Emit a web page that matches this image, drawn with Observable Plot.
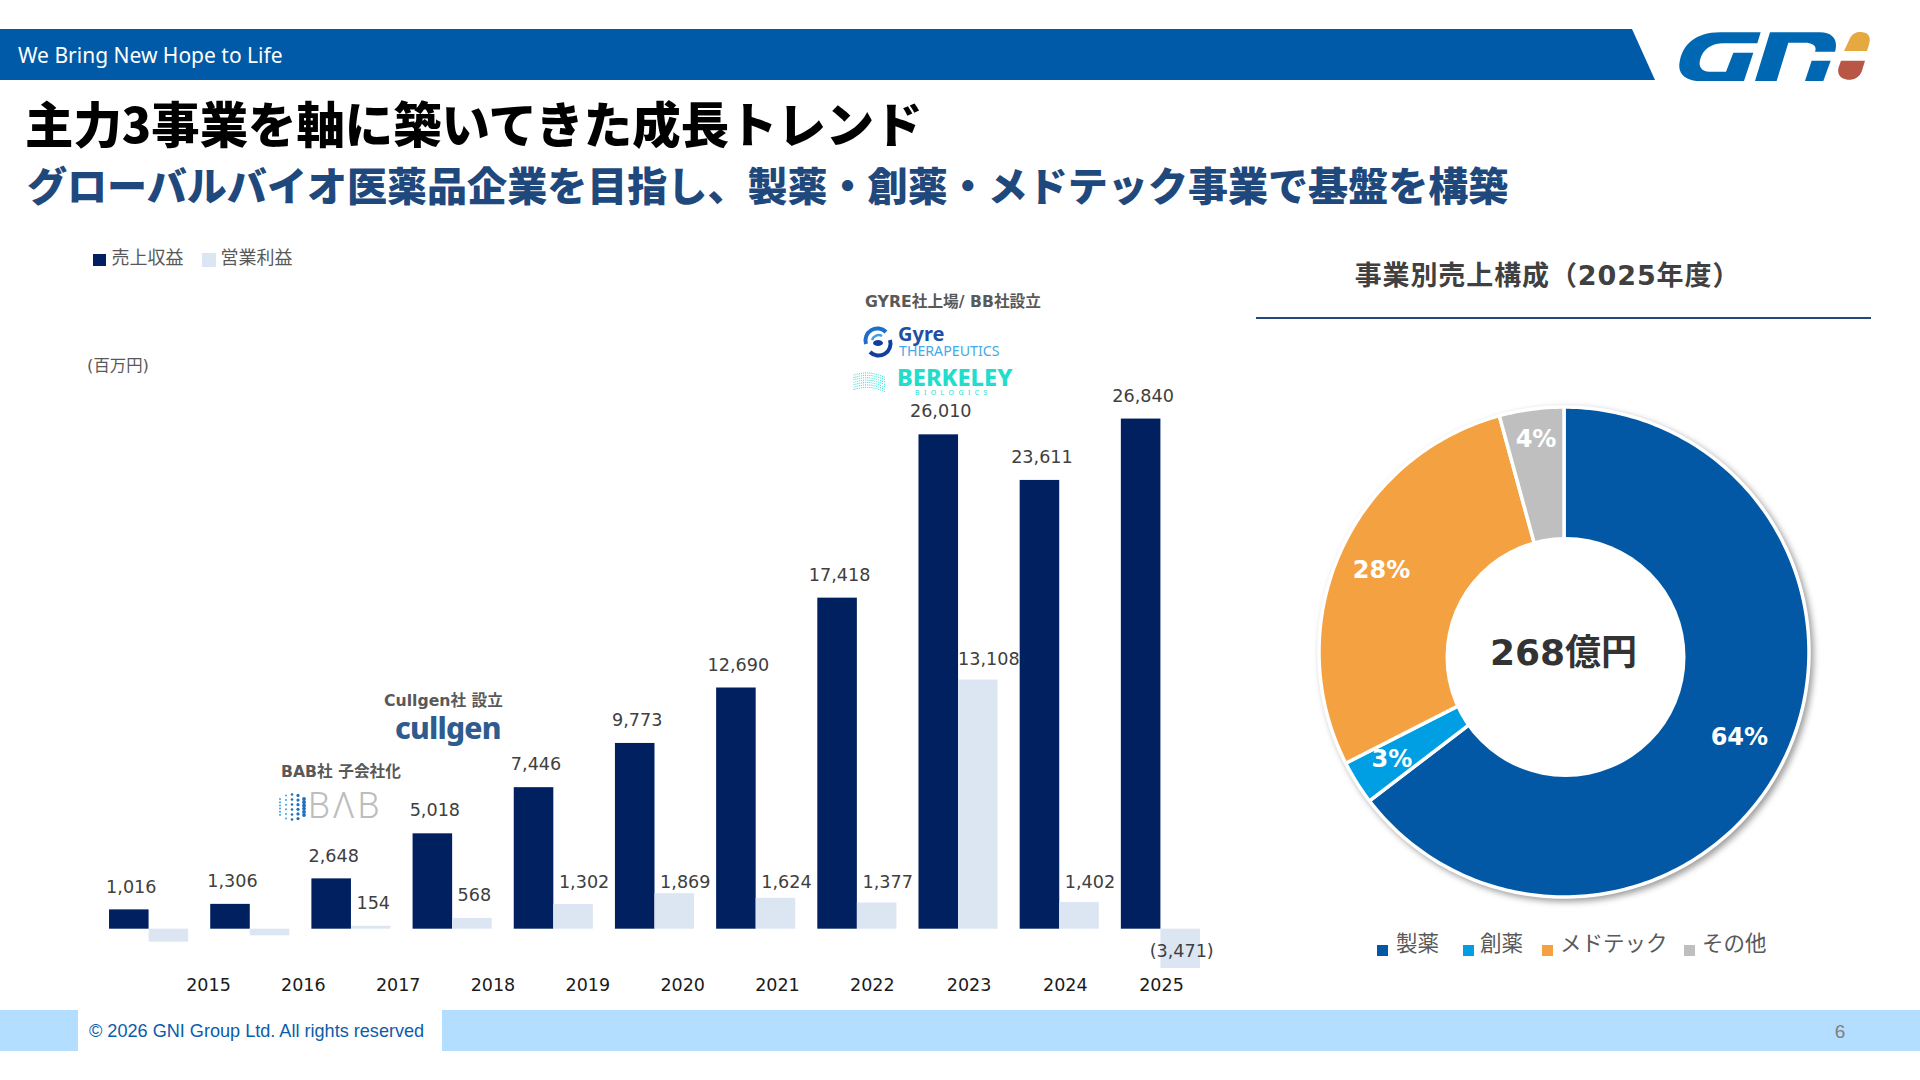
<!DOCTYPE html>
<html lang="ja">
<head>
<meta charset="utf-8">
<title>主力3事業を軸に築いてきた成長トレンド</title>
<script src="https://cdn.jsdelivr.net/npm/d3@7"></script>
<script src="https://cdn.jsdelivr.net/npm/@observablehq/plot@0.6"></script>
<style>
  html,body{margin:0;padding:0;background:#fff;}
  body{width:1920px;height:1080px;position:relative;overflow:hidden;font-family:"DejaVu Sans","Noto Sans CJK JP",sans-serif;}
  .abs{position:absolute;white-space:nowrap;}
  .c{transform:translate(-50%,-50%);}
  .v{transform:translateY(-50%);}
  svg{overflow:visible;}
  .plot{position:absolute;}
  .note{font-weight:700;font-size:15.7px;color:#595959;}
  #donut g[aria-label="area"]{filter:drop-shadow(3px 3px 3px rgba(0,0,0,.38));}
</style>
</head>
<body>
<div class="abs" style="left:0;top:29px;width:1655px;height:51px;background:#005AA7;clip-path:polygon(0 0,1632px 0,1655px 100%,0 100%);"></div>
<div class="abs v" style="left:18px;top:55px;color:#fff;font:21px 'Noto Sans',sans-serif;">We Bring New Hope to Life</div>
<svg class="abs" style="left:1620px;top:20px" width="300" height="70" viewBox="0 0 900 210">
  <path fill="#0068B2" d="M422,37 L300,37 C225,37 190,75 180,120 C170,160 195,183 240,183 L372,183 L400,98 L340,98 L318,155 L268,155 C245,155 235,140 240,120 C248,88 275,70 310,70 L412,70 Z"/>
  <path fill="#0068B2" d="M405,183 L450,37 L600,37 C640,37 655,62 645,95 L585,95 C592,78 578,68 555,68 L505,68 L470,183 Z"/>
  <path fill="#0068B2" d="M575,122 L632,122 L610,183 L555,183 Z"/>
  <path fill="#E6A93F" d="M672,93 L690,55 C697,40 710,35 725,36 C745,38 753,50 748,70 L741,93 Z"/>
  <path fill="#B95746" d="M663,122 L735,122 L725,155 C718,172 700,181 682,179 C660,177 650,160 656,142 Z"/>
</svg>

<div class="abs v" style="left:25px;top:122px;font:900 48.4px 'Noto Sans CJK JP',sans-serif;color:#000;">主力3事業を軸に築いてきた成長トレンド</div>
<div class="abs v" style="left:27px;top:184px;font:900 40.05px 'Noto Sans CJK JP',sans-serif;color:#1F497D;">グローバルバイオ医薬品企業を目指し、製薬・創薬・メドテック事業で基盤を構築</div>

<div id="barLegend"></div>
<div class="abs v" style="left:87px;top:364px;font-size:16.4px;color:#595959;">(百万円)</div>

<div class="abs c note" style="left:341px;top:770px;">BAB社 子会社化</div>
<div class="abs c note" style="left:443.5px;top:699px;">Cullgen社 設立</div>
<div class="abs c note" style="left:953px;top:299.5px;">GYRE社上場/ BB社設立</div>

<svg id="babDots" class="abs" style="left:276px;top:792px" width="32" height="30"></svg>
<div class="abs v" style="left:308px;top:806px;font:300 36px Roboto,sans-serif;color:#bdbdbd;letter-spacing:2px;">BΛB</div>

<div class="abs v" style="left:395px;top:728px;font:800 30px 'Noto Sans',sans-serif;color:#2F5C8F;letter-spacing:-.8px;line-height:24px;">cullgen</div>

<svg class="abs" style="left:862px;top:326px" width="32" height="32" viewBox="0 0 32 32">
  <path d="M4,18 A12,12 0 0 1 24,6" fill="none" stroke="#1F6FC8" stroke-width="4"/>
  <path d="M28,14 A12,12 0 0 1 8,26" fill="none" stroke="#123F9E" stroke-width="4"/>
  <path d="M10,14 A7,7 0 0 1 20,10" fill="none" stroke="#3FA0E6" stroke-width="2.5"/>
  <ellipse cx="16" cy="17" rx="5" ry="3" fill="#123F9E"/>
</svg>
<div class="abs v" style="left:898px;top:334px;font:700 20px 'Noto Sans',sans-serif;color:#1F4FA5;line-height:18px;">Gyre</div>
<div class="abs v" style="left:899px;top:350.5px;font:14.2px 'Noto Sans',sans-serif;color:#45A8E8;line-height:12px;">THERAPEUTICS</div>
<svg id="bbWave" class="abs" style="left:852px;top:369px" width="36" height="26"></svg>
<div class="abs v" style="left:897px;top:377px;font:800 23.6px 'Noto Sans',sans-serif;color:#22DDCC;line-height:18px;">BERKELEY</div>
<div class="abs v" style="left:915px;top:393px;font:7px 'Noto Sans',sans-serif;color:#22DDCC;letter-spacing:4.4px;line-height:6px;">BIOLOGICS</div>

<div class="abs c" style="left:1547.5px;top:272.5px;font-weight:700;font-size:27px;letter-spacing:.9px;color:#404040;">事業別売上構成（2025年度）</div>
<div class="abs" style="left:1256px;top:316.5px;width:615px;height:2px;background:#1F497D;"></div>

<div id="donutLegend"></div>

<div class="abs" style="left:0;top:1010px;width:1920px;height:41px;background:#B3DEFF;"></div>
<div class="abs" style="left:78px;top:1010px;width:364px;height:41px;background:#fff;"></div>
<div class="abs v" style="left:89px;top:1031px;font:18.1px 'Liberation Sans',Arial,sans-serif;color:#0B5CAB;">© 2026 GNI Group Ltd. All rights reserved</div>
<div class="abs c" style="left:1840px;top:1032px;font:19px 'Liberation Sans',Arial,sans-serif;color:#7f7f7f;">6</div>

<script>
const years = ["2015","2016","2017","2018","2019","2020","2021","2022","2023","2024","2025"];
const revenue = [1016,1306,2648,5018,7446,9773,12690,17418,26010,23611,26840];
const operatingProfit = [-680,-350,154,568,1302,1869,1624,1377,13108,1402,-3471];
const seriesNames = ["売上収益","営業利益"];
const seriesColors = ["#002060","#DCE6F2"];
const segments = ["製薬","創薬","メドテック","その他"];
const segmentShares = [64.6,2.9,28.25,4.25];
const segmentLabels = ["64%","3%","28%","4%"];
const segmentColors = ["#0358A6","#009FE3","#F4A141","#BFBFBF"];
const donutTotal = "268億円";

const font = '"DejaVu Sans","Noto Sans CJK JP",sans-serif';

/* ---------- bar chart ---------- */
const rows = years.flatMap((year,i)=>[
  {year,series:seriesNames[0],value:revenue[i]},
  {year,series:seriesNames[1],value:operatingProfit[i]}
]);
const fmt = d3.format(",");
const isRev = d=>d.series===seriesNames[0];
const barOpts = {fx:"year",x:"series",fontSize:17.6,fill:"#404040"};
const bars = Plot.plot({
  width:1300,height:608,marginTop:0,marginBottom:0,marginLeft:98,marginRight:89,
  style:{background:"transparent",fontFamily:font,overflow:"visible"},
  fx:{domain:years,paddingInner:.218,paddingOuter:.109,round:false,axis:null},
  x:{domain:seriesNames,padding:0,round:false,axis:null},
  y:{domain:[-2068,29921],clamp:true,axis:null},
  color:{domain:seriesNames,range:seriesColors},
  marks:[
    Plot.barY(rows,{fx:"year",x:"series",y:"value",fill:"series"}),
    Plot.text(rows.filter(isRev),{...barOpts,y:"value",text:d=>fmt(d.value),dy:-23,dx:2}),
    Plot.text(rows.filter(d=>!isRev(d)&&d.value>0&&d.value<1000),{...barOpts,y:"value",text:d=>fmt(d.value),dy:-23,dx:2}),
    Plot.text(rows.filter(d=>!isRev(d)&&d.value>=1000&&d.value<3000),{...barOpts,y:()=>2479,text:d=>fmt(d.value),dx:10.5}),
    Plot.text(rows.filter(d=>!isRev(d)&&d.value>=3000),{...barOpts,y:"value",text:d=>fmt(d.value),dy:-21,dx:10.5}),
    Plot.text(rows.filter(d=>d.value<-1000),{...barOpts,y:()=>0,text:d=>`(${fmt(-d.value)})`,dy:22,dx:1})
  ]
});
bars.classList.add("plot");
bars.style.left="0px";bars.style.top="360px";
document.body.appendChild(bars);

/* ---------- year labels (spaced independently of the bars) ---------- */
const yearAxis = Plot.plot({
  width:1300,height:30,marginTop:0,marginBottom:0,marginLeft:0,marginRight:0,
  style:{background:"transparent",fontFamily:font,overflow:"visible"},
  x:{type:"linear",domain:[+years[0],2022,2023,+years[10]],range:[208,871.8,968.6,1161],axis:null},
  y:{axis:null},
  marks:[
    Plot.axisX(years.map(Number),{anchor:"top",tickSize:0,tickPadding:0,fontSize:17.5,color:"#1a1a1a",label:null,lineAnchor:"middle",tickFormat:"d"})
  ]
});
yearAxis.classList.add("plot");
yearAxis.style.left="0px";yearAxis.style.top="985px";
document.body.appendChild(yearAxis);

/* ---------- donut ---------- */
const R = 245, innerStub = 100, hole = {x:1,y:4.5,r:120};
const toXY = (deg,r)=>{const a=deg*Math.PI/180;return [r*Math.sin(a),-r*Math.cos(a)];};
let acc = 0;
const arcRows = [], labelRows = [];
const labelRadii = [195,204,200,214];
segments.forEach((segment,i)=>{
  const a0 = acc*3.6, a1 = (acc+segmentShares[i])*3.6;
  for(const t of d3.range(0,1.0001,1/Math.max(2,Math.ceil(a1-a0)))){
    const a = a0+(a1-a0)*t, [x1,y1]=toXY(a,R), [x2,y2]=toXY(a,innerStub);
    arcRows.push({segment,x1,y1,x2,y2});
  }
  const [lx,ly]=toXY((a0+a1)/2,labelRadii[i]);
  labelRows.push({label:segmentLabels[i],x:lx,y:ly});
  acc += segmentShares[i];
});
const donut = Plot.plot({
  width:560,height:560,margin:0,
  style:{background:"transparent",fontFamily:font,overflow:"visible"},
  x:{type:"linear",domain:[-280,280],range:[0,560],axis:null},
  y:{type:"linear",domain:[-280,280],range:[0,560],axis:null},
  color:{domain:segments,range:segmentColors},
  marks:[
    Plot.area(arcRows,{x1:"x1",y1:"y1",x2:"x2",y2:"y2",z:"segment",fill:"segment",stroke:"#fff",strokeWidth:3.5,curve:"linear"}),
    Plot.dot([hole],{x:"x",y:"y",r:hole.r,fill:"#fff",stroke:"none"}),
    Plot.text(labelRows,{x:"x",y:"y",text:"label",fill:"#fff",fontSize:24,fontWeight:700,dy:-1.5}),
    Plot.text([donutTotal],{x:()=>-1,y:()=>1,text:d=>d,fill:"#333",fontSize:36,fontWeight:700})
  ]
});
donut.id="donut";
donut.classList.add("plot");
donut.style.left=(1564.3-280)+"px";donut.style.top=(651.5-280)+"px";
document.body.appendChild(donut);

/* ---------- html legends ---------- */
const span=(css,txt="")=>{const e=document.createElement("div");e.className="abs";e.style.cssText=css;e.textContent=txt;document.body.appendChild(e);};
[[93,111.5,254,12],[202,220.5,253,14]].forEach(([sx,tx,sy,sz],i)=>{
  span(`left:${sx}px;top:${sy}px;width:${sz+(i?0:1)}px;height:${sz}px;background:${seriesColors[i]}`);
  span(`left:${tx}px;top:256px;transform:translateY(-50%);font-size:18px;color:#595959`,seriesNames[i]);
});
[[1377,1396],[1463,1480],[1542,1560],[1684,1702]].forEach(([sx,tx],i)=>{
  span(`left:${sx}px;top:945px;width:11px;height:11px;background:${segmentColors[i]}`);
  span(`left:${tx}px;top:940.5px;transform:translateY(-50%);font-size:21.5px;color:#595959`,segments[i]);
});

/* ---------- logo ornaments ---------- */
const bab=d3.select("#babDots");
for(let c=0;c<5;c++)for(let r=0;r<6;r++){
  const half=Math.sqrt(Math.max(0,1-((c-2)/2.6)**2));
  const y=15+(r-2.5)*5*half, x=16+(c-2)*6;
  bab.append("circle").attr("cx",x).attr("cy",y).attr("r",1+.5*(c>1?c-1:0)*.6).attr("fill",c>1?"#1F6FC0":"#3FA0E6");
}
const wave=d3.select("#bbWave");
for(let r=0;r<7;r++)for(let c=0;c<17;c++){
  wave.append("circle").attr("cx",2+c*1.9).attr("cy",6+r*2.4-Math.sin(c/5)*3+(c/17)*2).attr("r",.55).attr("fill","#22DDCC");
}
</script>
</body>
</html>
